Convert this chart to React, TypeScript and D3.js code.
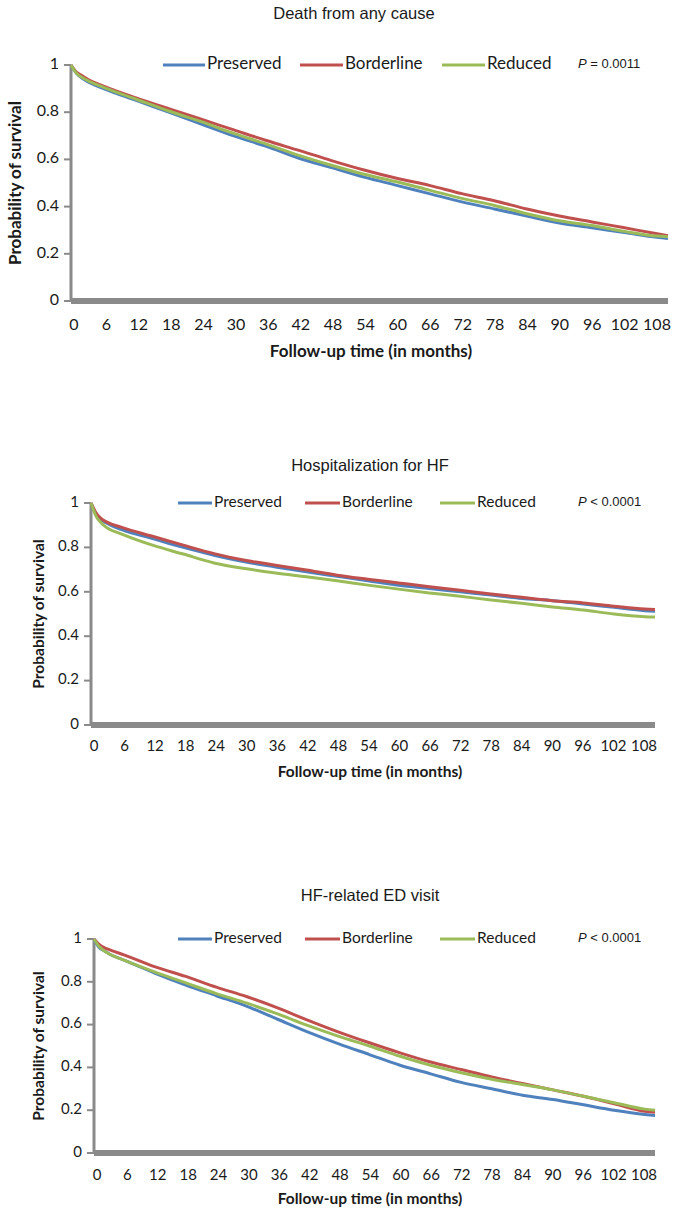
import React from "react";
import * as d3 from "d3";

// ---- Data ----
const months = [0, 1, 2, 3, 6, 12, 18, 24, 30, 36, 42, 48, 54, 60, 66, 72, 78, 84, 90, 96, 102, 108, 110];
const seriesNames = ["Preserved", "Borderline", "Reduced"];
const xTickLabels = [0, 6, 12, 18, 24, 30, 36, 42, 48, 54, 60, 66, 72, 78, 84, 90, 96, 102, 108];
const yTickLabels = [0, 0.2, 0.4, 0.6, 0.8, 1];

const deathPreserved = [1, 0.965, 0.945, 0.93, 0.9, 0.85, 0.8, 0.75, 0.7, 0.655, 0.605, 0.565, 0.525, 0.49, 0.455, 0.42, 0.39, 0.36, 0.33, 0.31, 0.29, 0.27, 0.265];
const deathBorderline = [1, 0.97, 0.955, 0.94, 0.91, 0.86, 0.815, 0.77, 0.725, 0.68, 0.638, 0.595, 0.555, 0.52, 0.49, 0.455, 0.425, 0.39, 0.36, 0.335, 0.31, 0.285, 0.277];
const deathReduced = [1, 0.965, 0.948, 0.935, 0.905, 0.855, 0.805, 0.76, 0.71, 0.665, 0.617, 0.575, 0.537, 0.505, 0.47, 0.435, 0.405, 0.37, 0.34, 0.32, 0.295, 0.275, 0.272];

const hospPreserved = [1, 0.95, 0.925, 0.91, 0.88, 0.84, 0.8, 0.765, 0.735, 0.712, 0.69, 0.67, 0.65, 0.63, 0.615, 0.6, 0.585, 0.57, 0.56, 0.545, 0.53, 0.515, 0.512];
const hospBorderline = [1, 0.955, 0.93, 0.915, 0.89, 0.85, 0.81, 0.772, 0.742, 0.72, 0.698, 0.675, 0.657, 0.64, 0.623, 0.607, 0.59, 0.575, 0.56, 0.55, 0.535, 0.522, 0.52];
const hospReduced = [1, 0.94, 0.91, 0.89, 0.86, 0.81, 0.77, 0.73, 0.705, 0.685, 0.668, 0.65, 0.63, 0.612, 0.595, 0.58, 0.563, 0.548, 0.532, 0.518, 0.5, 0.488, 0.486];

const edPreserved = [1, 0.96, 0.945, 0.93, 0.9, 0.84, 0.785, 0.735, 0.685, 0.625, 0.565, 0.51, 0.46, 0.41, 0.37, 0.33, 0.3, 0.27, 0.25, 0.225, 0.2, 0.18, 0.175];
const edBorderline = [1, 0.975, 0.96, 0.95, 0.925, 0.87, 0.825, 0.775, 0.73, 0.678, 0.62, 0.565, 0.515, 0.468, 0.425, 0.39, 0.355, 0.325, 0.295, 0.265, 0.23, 0.195, 0.19];
const edReduced = [1, 0.965, 0.945, 0.93, 0.9, 0.845, 0.795, 0.745, 0.7, 0.65, 0.595, 0.545, 0.5, 0.452, 0.41, 0.375, 0.345, 0.32, 0.295, 0.265, 0.235, 0.205, 0.2];

const colors = ["#4f81bd", "#c0504d", "#9bbb59"];

const FONT_CAL = "Lato, 'Open Sans', sans-serif";
const FONT_ARIAL = "'Liberation Sans', Arial, sans-serif";
const GRAY = "#8a8a8a";

type PanelCfg = {
  title: string;
  pText: string;
  series: number[][];
  titleY: number;
  titleX: number;
  top: number;
  bottom: number;
  left: number;
  right: number;
  tickFont: number;
  legendFont: number;
  axisTitleFont: number;
  legend: { lineStart: number; lineEnd: number }[];
  pX: number;
  xLabelY: number;
  xTitleY: number;
  xTitleX: number;
  yTitleX: number;
};

const panels: PanelCfg[] = [
  {
    title: "Death from any cause",
    pText: "= 0.0011",
    series: [deathPreserved, deathBorderline, deathReduced],
    titleY: 15, titleX: 354,
    top: 65, bottom: 301, left: 71, right: 668,
    tickFont: 16, legendFont: 17, axisTitleFont: 17,
    legend: [{ lineStart: 163, lineEnd: 205 }, { lineStart: 300, lineEnd: 343 }, { lineStart: 442, lineEnd: 485 }],
    pX: 578, xLabelY: 326, xTitleY: 353, xTitleX: 371, yTitleX: 17,
  },
  {
    title: "Hospitalization for HF",
    pText: "< 0.0001",
    series: [hospPreserved, hospBorderline, hospReduced],
    titleY: 467, titleX: 370,
    top: 503, bottom: 725, left: 91, right: 655,
    tickFont: 15, legendFont: 15.5, axisTitleFont: 15.5,
    legend: [{ lineStart: 178, lineEnd: 212 }, { lineStart: 305, lineEnd: 340 }, { lineStart: 440, lineEnd: 475 }],
    pX: 578, xLabelY: 747, xTitleY: 773, xTitleX: 370, yTitleX: 40,
  },
  {
    title: "HF-related ED visit",
    pText: "< 0.0001",
    series: [edPreserved, edBorderline, edReduced],
    titleY: 897, titleX: 370,
    top: 939, bottom: 1153, left: 94, right: 655,
    tickFont: 15, legendFont: 15.5, axisTitleFont: 15.5,
    legend: [{ lineStart: 178, lineEnd: 212 }, { lineStart: 305, lineEnd: 340 }, { lineStart: 440, lineEnd: 475 }],
    pX: 578, xLabelY: 1176, xTitleY: 1200, xTitleX: 370, yTitleX: 40,
  },
];

function Panel({ cfg }: { cfg: PanelCfg }) {
  const x = d3.scaleLinear().domain([0, 110]).range([cfg.left, cfg.right]);
  const y = d3.scaleLinear().domain([0, 1]).range([cfg.bottom, cfg.top]);
  const labelX = d3.scaleLinear().domain([0, 108]).range([cfg.left + 3, cfg.right - 11]);
  const line = d3
    .line<[number, number]>()
    .x((d) => x(d[0]))
    .y((d) => y(d[1]))
    .curve(d3.curveMonotoneX);
  const yMid = (cfg.top + cfg.bottom) / 2;
  return (
    <g>
      <text x={cfg.titleX} y={cfg.titleY} textAnchor="middle" dominantBaseline="middle"
        fontFamily={FONT_ARIAL} fontSize={16.5} fill="#1a1a1a">{cfg.title}</text>
      {/* y axis */}
      <line x1={cfg.left} x2={cfg.left} y1={cfg.top} y2={cfg.bottom} stroke={GRAY} strokeWidth={3} />
      {yTickLabels.map((t) => (
        <g key={t}>
          <line x1={cfg.left - 7} x2={cfg.left} y1={y(t)} y2={y(t)} stroke={GRAY} strokeWidth={2} />
          <text x={cfg.left - 12} y={y(t)} textAnchor="end" dominantBaseline="middle"
            fontFamily={FONT_CAL} fontSize={cfg.tickFont} fill="#1a1a1a">{t === 0 || t === 1 ? String(t) : t.toFixed(1)}</text>
        </g>
      ))}
      {/* series */}
      {cfg.series.map((s, i) => (
        <path key={i} d={line(months.map((m, j) => [m, s[j]] as [number, number])) || ""}
          fill="none" stroke={colors[i]} strokeWidth={3} />
      ))}
      {/* x axis bar */}
      <line x1={cfg.left} x2={cfg.right} y1={cfg.bottom} y2={cfg.bottom} stroke={GRAY} strokeWidth={6} />
      {xTickLabels.map((t) => (
        <text key={t} x={labelX(t)} y={cfg.xLabelY} textAnchor="middle" dominantBaseline="middle"
          fontFamily={FONT_CAL} fontSize={cfg.tickFont} fill="#1a1a1a">{t}</text>
      ))}
      <text x={cfg.xTitleX} y={cfg.xTitleY} textAnchor="middle" dominantBaseline="middle"
        fontFamily={FONT_CAL} fontWeight="bold" fontSize={cfg.axisTitleFont} fill="#1a1a1a">Follow-up time (in months)</text>
      <text transform={`translate(${cfg.yTitleX},${yMid}) rotate(-90)`} textAnchor="middle" dominantBaseline="middle"
        fontFamily={FONT_CAL} fontWeight="bold" fontSize={cfg.axisTitleFont} fill="#1a1a1a">Probability of survival</text>
      {/* legend */}
      {seriesNames.map((n, i) => (
        <g key={n}>
          <line x1={cfg.legend[i].lineStart} x2={cfg.legend[i].lineEnd} y1={cfg.top} y2={cfg.top}
            stroke={colors[i]} strokeWidth={3} />
          <text x={cfg.legend[i].lineEnd + 2} y={cfg.top} dominantBaseline="middle"
            fontFamily={FONT_CAL} fontSize={cfg.legendFont} fill="#1a1a1a">{n}</text>
        </g>
      ))}
      <text x={cfg.pX} y={cfg.top} dominantBaseline="middle" fontFamily={FONT_ARIAL} fontSize={13} fill="#1a1a1a">
        <tspan fontStyle="italic">P</tspan> {cfg.pText}
      </text>
    </g>
  );
}

export default function App() {
  return (
    <svg width={675} height={1214} style={{ position: "absolute", left: 0, top: 0, background: "#fff" }}>
      <rect width={675} height={1214} fill="#fff" />
      {panels.map((p, i) => (
        <Panel key={i} cfg={p} />
      ))}
    </svg>
  );
}
